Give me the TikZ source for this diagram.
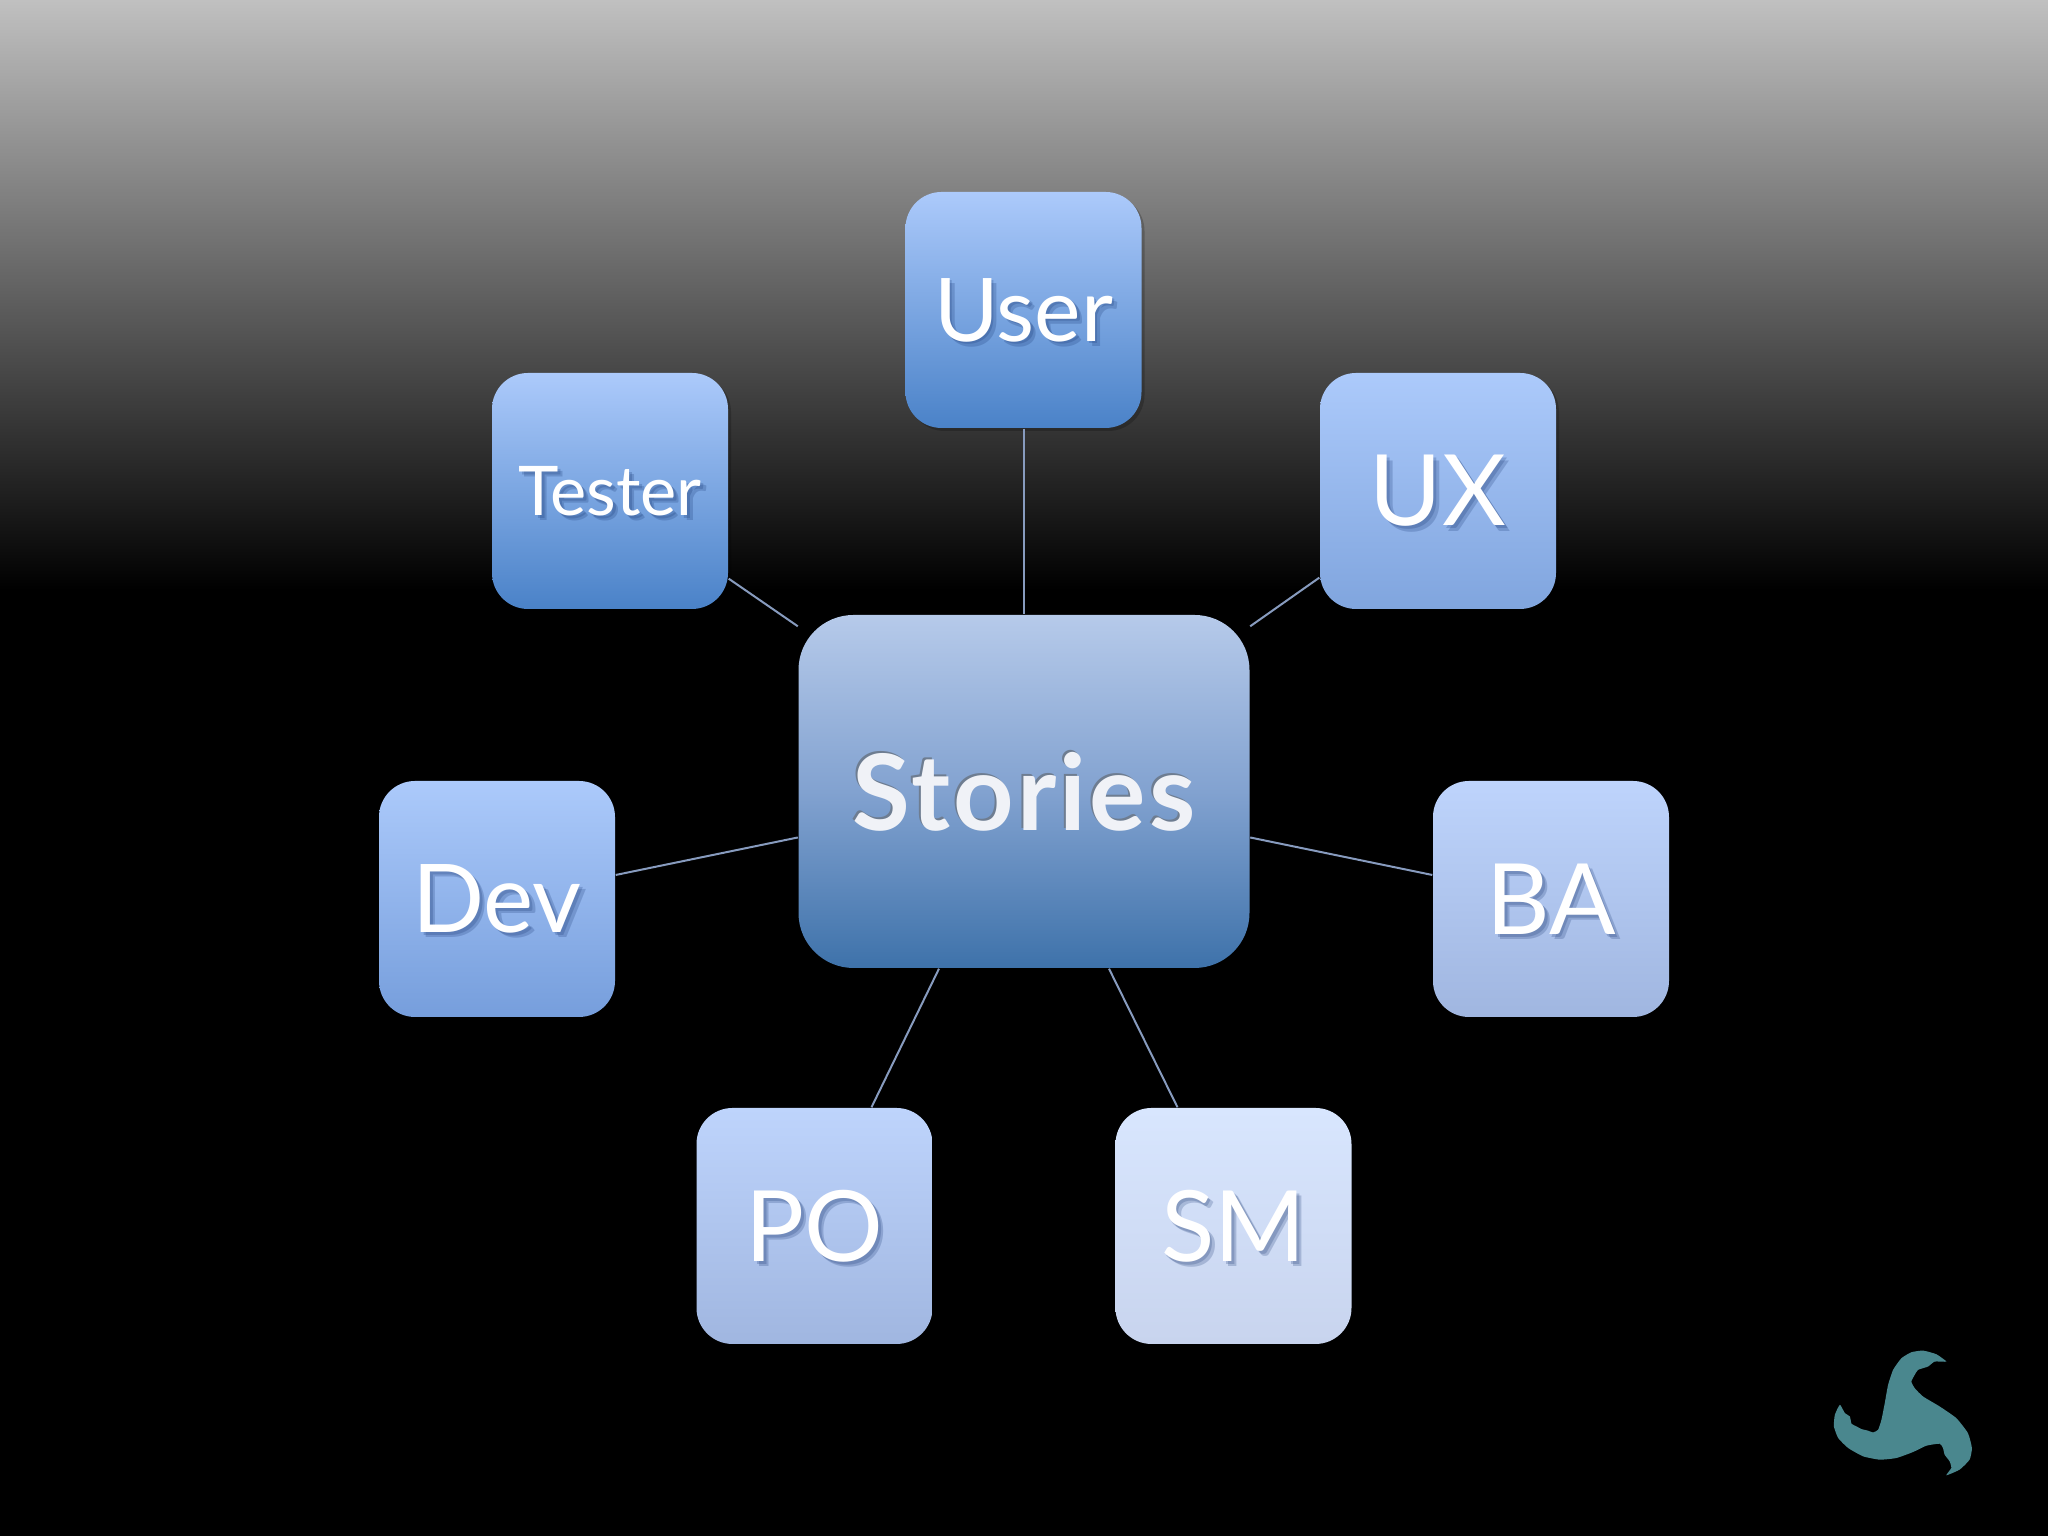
\documentclass[tikz,border=0pt]{standalone}
\usepackage{fontspec}
\usepackage{xcolor}
\setmainfont{Lato}
\newfontfamily\storyfont[LetterSpace=3]{Lato Bold}
\usetikzlibrary{calc,shadows}

\definecolor{linkblue}{RGB}{135,155,190}
\definecolor{logoteal}{RGB}{74,135,142}
\definecolor{textshade}{RGB}{20,50,110}
\definecolor{storyshade}{RGB}{110,125,145}
\definecolor{skytop}{RGB}{192,192,192}
\definecolor{lighttop}{RGB}{172,202,251}
\definecolor{paletop}{RGB}{190,212,252}
\definecolor{whitetop}{RGB}{216,230,254}
\definecolor{deepblue}{RGB}{74,130,200}
\definecolor{midblue}{RGB}{118,158,220}
\definecolor{softblue}{RGB}{128,165,222}
\definecolor{hazeblue}{RGB}{160,182,224}
\definecolor{mistblue}{RGB}{200,212,238}

% text with a soft copy behind it
\newcommand{\softtext}[1]{\pgfsetfillopacity{0.22}\rlap{\kern1.5pt\raisebox{-1.5pt}[0pt][0pt]{\color{textshade}#1}}\rlap{\kern.8pt\raisebox{-.8pt}[0pt][0pt]{\color{textshade}#1}}\pgfsetfillopacity{1}#1}
\newcommand{\insettext}[1]{\rlap{\kern-.5pt\raisebox{.5pt}[0pt][0pt]{\color{storyshade}#1}}#1}

\begin{document}
\begin{tikzpicture}[
    rolebox/.style={rounded corners=0.36cm, minimum width=2.36cm, minimum height=2.36cm, inner sep=0pt,
        text=white, font=\fontsize{25}{30}\selectfont,
        drop shadow={black, opacity=0.2, shadow xshift=0.03cm, shadow yshift=-0.03cm}},
    link/.style={linkblue, line width=0.02cm}
]
    % Background
    \fill[black] (0,0) rectangle (20.48,15.36);
    \shade[top color=skytop, bottom color=black] (0,9.46) rectangle (20.48,15.36);

    % Role boxes
    \node[rolebox, top color=lighttop, bottom color=deepblue] (user) at (10.235,12.26) {\softtext{User}};
    \node[rolebox, font=\fontsize{19.5}{24}\selectfont, top color=lighttop, bottom color=deepblue] (tester) at (6.10,10.45) {\softtext{Tester}};
    \node[rolebox, font=\fontsize{28}{33}\selectfont, top color=lighttop, bottom color=softblue] (ux) at (14.38,10.45) {\softtext{UX}};
    \node[rolebox, font=\fontsize{27}{32}\selectfont, top color=lighttop, bottom color=midblue] (dev) at (4.97,6.37) {\softtext{Dev}};
    \node[rolebox, font=\fontsize{28}{33}\selectfont, top color=paletop, bottom color=hazeblue] (ba) at (15.51,6.37) {\softtext{BA}};
    \node[rolebox, font=\fontsize{28}{33}\selectfont, top color=paletop, bottom color=hazeblue] (po) at (8.145,3.10) {\softtext{PO}};
    \node[rolebox, font=\fontsize{28}{33}\selectfont, top color=whitetop, bottom color=mistblue] (sm) at (12.335,3.10) {\softtext{SM}};

    % Centre box
    \node[rounded corners=0.55cm, minimum width=4.51cm, minimum height=3.53cm, inner sep=0pt,
        top color={rgb,255:red,182;green,202;blue,234}, bottom color={rgb,255:red,62;green,114;blue,170},
        middle color={rgb,255:red,130;green,162;blue,208},
        text={rgb,255:red,240;green,242;blue,247}, font=\storyfont\fontsize{30}{34}\selectfont] (stories) at (10.24,7.445) {\insettext{Stories}};

    % Links
    \draw[link] (user.south) -- (user.south |- stories.north);
    \draw[link] ([yshift=0.31cm]tester.south east) -- ([yshift=-0.12cm]stories.north west);
    \draw[link] ([yshift=0.32cm]ux.south west) -- ([yshift=-0.12cm]stories.north east);
    \draw[link] ([yshift=0.24cm]dev.east) -- ([yshift=-0.46cm]stories.west);
    \draw[link] ([yshift=0.24cm]ba.west) -- ([yshift=-0.46cm]stories.east);
    \draw[link] ([xshift=0.57cm]po.north) -- ([xshift=-0.85cm]stories.south);
    \draw[link] ([xshift=-0.56cm]sm.north) -- ([xshift=0.85cm]stories.south);

    % Logo
    \begin{scope}[shift={(17.8,2.16)}, x=0.00333cm, y=-0.00333cm]
        \fill[logoteal] plot[smooth cycle, tension=0.3] coordinates {
            (500,125) (470,103) (430,92) (395,97) (365,115) (340,150) (325,195) (315,250)
            (305,300) (295,330) (280,338) (262,332) (245,328) (230,320) (215,312) (210,290)
            (195,280) (180,255) (165,285) (162,320) (175,355) (205,385) (250,410) (300,420)
            (350,415) (400,397) (440,378) (480,372) (490,385) (495,405) (510,425) (515,445)
            (500,467) (540,450) (570,420) (577,385) (565,340) (530,295) (480,260) (430,230)
            (405,205) (395,185) (405,165) (415,150) (445,140) (465,125)};
    \end{scope}
\end{tikzpicture}
\end{document}
